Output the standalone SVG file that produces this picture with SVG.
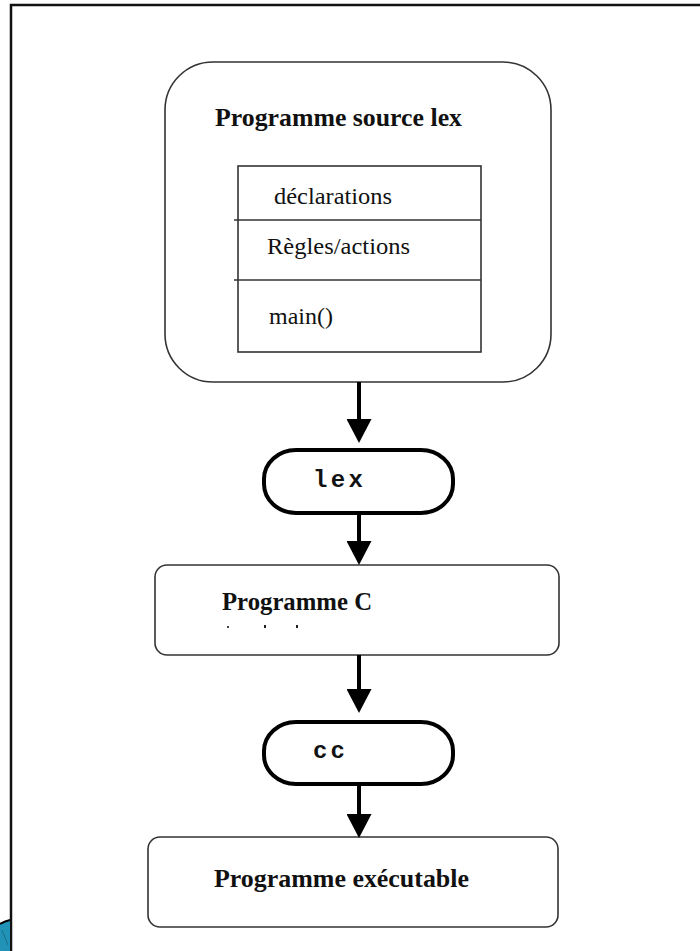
<svg xmlns="http://www.w3.org/2000/svg" width="700" height="951" viewBox="0 0 700 951">
  <style>
    .frame { fill: none; stroke: #111; stroke-width: 2.5; }
    .box { fill: #fff; stroke: #333; stroke-width: 1.6; }
    .term { fill: #fff; stroke: #000; stroke-width: 4; }
    .sep { stroke: #333; stroke-width: 1.6; }
    .title { font-family: "Liberation Serif", "Times New Roman", serif; font-weight: bold; font-size: 25px; fill: #111; }
    .item { font-family: "Liberation Serif", "Times New Roman", serif; font-size: 24px; fill: #111; }
    .cmd { font-family: "Liberation Mono", "Courier New", monospace; font-weight: bold; font-size: 24px; fill: #111; }
    .flow { stroke: #000; stroke-width: 4; fill: none; marker-end: url(#head); }
  </style>
  <defs>
    <marker id="head" viewBox="0 0 24 25" refX="3" refY="12.5" markerWidth="24" markerHeight="25" markerUnits="userSpaceOnUse" orient="auto">
      <path d="M0,0 L24,12.5 L0,25 z" fill="#000"/>
    </marker>
  </defs>

  <rect width="700" height="951" fill="#fff"/>

  <!-- page frame -->
  <g id="frame">
    <path class="frame" d="M11,951 L11,5 L700,5"/>
    <path d="M0,924 Q5,921 10,920 L10,951 L0,951 z" fill="#2193b6"/>
    <path d="M0,924 Q5,921 10,920" fill="none" stroke="#000" stroke-width="2"/>
    <path d="M2,930 L8,945" stroke="#1a6f8c" stroke-width="1"/>
  </g>

  <!-- lex source program with its three sections -->
  <g id="source">
    <rect class="box" x="165" y="62" width="386" height="320" rx="48" ry="48"/>
    <text class="title" x="215" y="126" textLength="247" lengthAdjust="spacingAndGlyphs">Programme source lex</text>
    <rect class="box" x="238" y="166" width="243" height="186"/>
    <line class="sep" x1="234" y1="220" x2="481" y2="220"/>
    <line class="sep" x1="234" y1="280" x2="481" y2="280"/>
    <text class="item" x="274" y="204" textLength="118" lengthAdjust="spacingAndGlyphs">déclarations</text>
    <text class="item" x="267" y="254" textLength="143" lengthAdjust="spacingAndGlyphs">Règles/actions</text>
    <text class="item" x="269" y="324" textLength="64" lengthAdjust="spacingAndGlyphs">main()</text>
  </g>

  <!-- lex command -->
  <g id="lex">
    <rect class="term" x="264" y="450" width="189" height="63" rx="32" ry="29"/>
    <text class="cmd" x="313" y="487" textLength="50" lengthAdjust="spacing">lex</text>
  </g>

  <!-- generated C program -->
  <g id="c-program">
    <rect class="box" x="155" y="565" width="404" height="90" rx="12" ry="12"/>
    <text class="title" x="222" y="610" textLength="150" lengthAdjust="spacingAndGlyphs">Programme C</text>
    <rect x="227" y="626" width="2" height="2" fill="#444"/>
    <rect x="264" y="625" width="2" height="3" fill="#222"/>
    <rect x="296" y="625" width="2" height="3" fill="#222"/>
  </g>

  <!-- cc command -->
  <g id="cc">
    <rect class="term" x="264" y="722" width="189" height="62" rx="32" ry="29"/>
    <text class="cmd" x="313" y="758" textLength="32" lengthAdjust="spacing">cc</text>
  </g>

  <!-- executable -->
  <g id="executable">
    <rect class="box" x="148" y="837" width="410" height="90" rx="12" ry="12"/>
    <text class="title" x="214" y="887" textLength="255" lengthAdjust="spacingAndGlyphs">Programme exécutable</text>
  </g>

  <!-- connectors -->
  <g id="connectors">
    <line class="flow" x1="359" y1="382" x2="359" y2="422"/>
    <line class="flow" x1="359" y1="515" x2="359" y2="544"/>
    <line class="flow" x1="359" y1="655" x2="359" y2="692"/>
    <line class="flow" x1="359" y1="786" x2="359" y2="817"/>
  </g>
</svg>
